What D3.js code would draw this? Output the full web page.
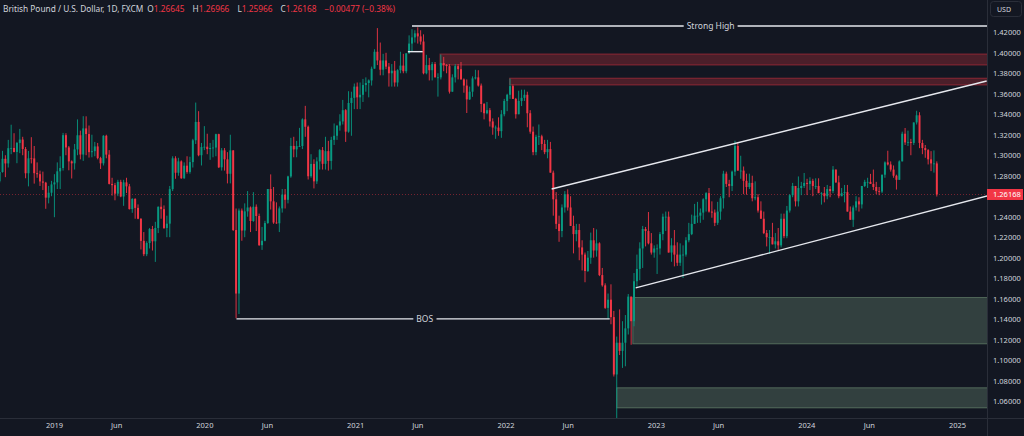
<!DOCTYPE html>
<html><head><meta charset="utf-8">
<script src="https://cdn.jsdelivr.net/npm/d3@7"></script>
<style>
html,body{margin:0;padding:0;background:#131722;overflow:hidden;}
svg{display:block;}
</style></head><body>
<svg id="c" width="1024" height="436"></svg>
<script>
// ---------- DATA (weekly candles: [high, low, close]; open = previous close) ----------
const firstOpen = 1.2745;
const w2018 = [
 [1.2930,1.2730,1.2836],[1.3043,1.2830,1.2965],
 [1.3000,1.2786,1.2920],[1.3150,1.2880,1.3069],[1.3298,1.3010,1.3071],[1.3215,1.3028,1.3032],
 [1.3130,1.2922,1.3120],[1.3257,1.3020,1.3153],[1.3180,1.3000,1.3061],[1.3080,1.2775,1.2824],
 [1.3042,1.2696,1.2970],[1.3176,1.2920,1.2969],[1.3090,1.2723,1.2825],[1.2930,1.2780,1.2815],[1.2850,1.2700,1.2744],
 [1.2840,1.2660,1.2732],[1.2740,1.2477,1.2586],[1.2700,1.2530,1.2634],[1.2750,1.2600,1.2715]
];
const w2019 = [
 [1.2815,1.2395,1.2735],[1.2930,1.2670,1.2843],[1.2990,1.2670,1.2875],[1.3218,1.2850,1.3196],
 [1.3215,1.3000,1.3076],[1.3090,1.2853,1.2940],[1.2950,1.2773,1.2921],[1.3110,1.2860,1.3057],
 [1.3350,1.3000,1.3195],[1.3240,1.2960,1.3007],[1.3381,1.2945,1.3262],[1.3380,1.3000,1.3207],[1.3290,1.2977,1.3030],
 [1.3200,1.2980,1.3040],[1.3130,1.2990,1.3086],[1.3120,1.2960,1.2972],[1.2985,1.2866,1.2921],
 [1.3196,1.2900,1.3190],[1.3200,1.2970,1.3006],[1.3050,1.2715,1.2720],[1.2780,1.2606,1.2708],[1.2730,1.2560,1.2625],
 [1.2760,1.2600,1.2740],[1.2760,1.2590,1.2597],[1.2760,1.2506,1.2735],[1.2780,1.2630,1.2696],
 [1.2720,1.2470,1.2474],[1.2580,1.2438,1.2574],[1.2580,1.2380,1.2486],[1.2520,1.2375,1.2380],
 [1.2385,1.2080,1.2164],[1.2250,1.2015,1.2034],[1.2160,1.2015,1.2143],[1.2290,1.2090,1.2280],[1.2310,1.2070,1.2160],
 [1.2350,1.1959,1.2290],[1.2500,1.2240,1.2497],[1.2580,1.2380,1.2474],[1.2510,1.2280,1.2290],
 [1.2410,1.2200,1.2332],[1.2700,1.2200,1.2669],[1.2990,1.2650,1.2970],[1.2990,1.2770,1.2829],
 [1.2975,1.2800,1.2940],[1.2950,1.2770,1.2775],[1.2930,1.2770,1.2898],[1.2990,1.2820,1.2837],[1.2985,1.2820,1.2933],
 [1.3160,1.2880,1.3146],[1.3514,1.3110,1.3325],[1.3430,1.2990,1.3000],[1.3120,1.2900,1.3080]
];
const w2020 = [
 [1.3284,1.3050,1.3083],[1.3210,1.3010,1.3060],[1.3120,1.2955,1.3071],[1.3150,1.2980,1.3075],[1.3210,1.2990,1.3206],
 [1.3210,1.2875,1.2882],[1.3070,1.2850,1.3048],[1.3070,1.2850,1.2960],[1.3030,1.2725,1.2819],
 [1.3200,1.2725,1.3047],[1.3050,1.2260,1.2270],[1.2480,1.1409,1.1650],[1.2480,1.1450,1.2460],
 [1.2480,1.2165,1.2265],[1.2530,1.2200,1.2452],[1.2650,1.2400,1.2490],[1.2500,1.2250,1.2358],
 [1.2640,1.2350,1.2497],[1.2520,1.2260,1.2407],[1.2430,1.2115,1.2122],[1.2300,1.2076,1.2165],[1.2360,1.2160,1.2338],
 [1.2670,1.2330,1.2670],[1.2813,1.2470,1.2550],[1.2690,1.2330,1.2343],[1.2540,1.2330,1.2336],
 [1.2500,1.2250,1.2481],[1.2670,1.2440,1.2616],[1.2670,1.2480,1.2565],[1.2800,1.2530,1.2793],[1.3170,1.2780,1.3091],
 [1.3180,1.2980,1.3057],[1.3140,1.2980,1.3089],[1.3267,1.3080,1.3090],[1.3360,1.3060,1.3350],
 [1.3482,1.3180,1.3278],[1.3290,1.2763,1.2795],[1.3010,1.2780,1.2915],[1.2960,1.2676,1.2745],
 [1.2980,1.2720,1.2940],[1.3060,1.2860,1.3050],[1.3080,1.2860,1.2916],[1.3180,1.2860,1.3040],[1.3140,1.2850,1.2945],
 [1.3180,1.2860,1.3150],[1.3310,1.3100,1.3190],[1.3290,1.3150,1.3290],[1.3400,1.3240,1.3330],
 [1.3540,1.3300,1.3440],[1.3450,1.3130,1.3230],[1.3625,1.3220,1.3510],[1.3620,1.3190,1.3560]
];
const w2021 = [
 [1.3700,1.3450,1.3670],[1.3710,1.3450,1.3565],[1.3710,1.3450,1.3590],[1.3745,1.3520,1.3685],[1.3760,1.3620,1.3705],
 [1.3740,1.3565,1.3730],[1.3865,1.3680,1.3845],[1.4035,1.3850,1.4010],[1.4241,1.3880,1.3925],
 [1.4100,1.3780,1.3835],[1.3990,1.3780,1.3925],[1.4000,1.3840,1.3865],[1.3900,1.3670,1.3800],
 [1.3890,1.3670,1.3825],[1.3920,1.3670,1.3710],[1.3840,1.3670,1.3830],[1.4010,1.3800,1.3875],[1.3990,1.3800,1.3820],
 [1.3995,1.3800,1.3995],[1.4170,1.3990,1.4090],[1.4230,1.4010,1.4150],[1.4220,1.4100,1.4190],
 [1.4249,1.4090,1.4160],[1.4220,1.4080,1.4110],[1.4180,1.3790,1.3800],[1.3980,1.3790,1.3880],
 [1.3950,1.3730,1.3830],[1.3910,1.3730,1.3890],[1.3910,1.3760,1.3760],[1.3800,1.3572,1.3760],[1.3983,1.3740,1.3900],
 [1.3960,1.3820,1.3880],[1.3890,1.3800,1.3870],[1.3890,1.3602,1.3620],[1.3790,1.3620,1.3760],
 [1.3890,1.3710,1.3870],[1.3890,1.3740,1.3840],[1.3910,1.3740,1.3740],[1.3750,1.3610,1.3680],
 [1.3740,1.3412,1.3545],[1.3670,1.3540,1.3620],[1.3770,1.3570,1.3750],[1.3834,1.3740,1.3760],[1.3830,1.3670,1.3680],
 [1.3700,1.3420,1.3500],[1.3510,1.3350,1.3410],[1.3520,1.3400,1.3440],[1.3460,1.3280,1.3330],
 [1.3360,1.3200,1.3270],[1.3290,1.3160,1.3270],[1.3370,1.3190,1.3235],[1.3440,1.3170,1.3400],[1.3550,1.3380,1.3530]
];
const w2022 = [
 [1.3600,1.3430,1.3590],[1.3748,1.3550,1.3675],[1.3690,1.3550,1.3550],[1.3560,1.3358,1.3400],
 [1.3630,1.3400,1.3530],[1.3640,1.3480,1.3560],[1.3640,1.3530,1.3590],[1.3620,1.3273,1.3410],
 [1.3440,1.3210,1.3230],[1.3280,1.3000,1.3030],[1.3200,1.3000,1.3180],[1.3300,1.3100,1.3185],
 [1.3200,1.3050,1.3110],[1.3150,1.3010,1.3030],[1.3150,1.2970,1.3060],[1.3130,1.2830,1.2830],[1.2850,1.2410,1.2570],
 [1.2640,1.2280,1.2330],[1.2410,1.2155,1.2260],[1.2520,1.2200,1.2490],[1.2650,1.2440,1.2620],
 [1.2667,1.2460,1.2490],[1.2600,1.2310,1.2310],[1.2410,1.2042,1.2230],[1.2330,1.2160,1.2270],
 [1.2330,1.1975,1.2100],[1.2170,1.1875,1.2030],[1.2050,1.1760,1.1870],[1.2065,1.1860,1.2000],[1.2245,1.1940,1.2170],
 [1.2290,1.2000,1.2070],[1.2276,1.2010,1.2140],[1.2150,1.1820,1.1830],[1.1900,1.1717,1.1730],
 [1.1750,1.1500,1.1510],[1.1650,1.1405,1.1590],[1.1740,1.1350,1.1420],[1.1480,1.0840,1.0860],[1.1230,1.0354,1.1170],
 [1.1495,1.1050,1.1090],[1.1380,1.0924,1.1170],[1.1440,1.0940,1.1310],[1.1645,1.1250,1.1620],
 [1.1600,1.1150,1.1380],[1.1850,1.1330,1.1770],[1.2030,1.1710,1.1890],[1.2150,1.1780,1.2090],
 [1.2310,1.1900,1.2280],[1.2300,1.2110,1.2260],[1.2446,1.2130,1.2140],[1.2240,1.2030,1.2050],[1.2120,1.2000,1.2090]
];
const w2023 = [
 [1.2130,1.1841,1.2090],[1.2250,1.2030,1.2230],[1.2430,1.2170,1.2400],[1.2450,1.2260,1.2400],
 [1.2450,1.2050,1.2050],[1.2190,1.1960,1.2120],[1.2270,1.1915,1.2030],[1.2150,1.1920,1.1950],
 [1.2140,1.1920,1.2030],[1.2120,1.1802,1.2030],[1.2200,1.2010,1.2170],[1.2340,1.2150,1.2230],[1.2420,1.2220,1.2330],
 [1.2525,1.2330,1.2410],[1.2545,1.2340,1.2410],[1.2480,1.2340,1.2440],[1.2580,1.2370,1.2570],
 [1.2640,1.2450,1.2630],[1.2680,1.2440,1.2450],[1.2550,1.2390,1.2440],[1.2470,1.2308,1.2340],
 [1.2545,1.2320,1.2450],[1.2600,1.2370,1.2580],[1.2848,1.2480,1.2820],[1.2840,1.2690,1.2720],[1.2760,1.2590,1.2700],
 [1.2850,1.2650,1.2840],[1.3142,1.2800,1.3090],[1.3120,1.2850,1.2850],[1.2995,1.2770,1.2850],
 [1.2890,1.2620,1.2750],[1.2820,1.2615,1.2690],[1.2820,1.2670,1.2730],[1.2800,1.2550,1.2580],
 [1.2745,1.2560,1.2590],[1.2620,1.2440,1.2460],[1.2550,1.2380,1.2380],[1.2450,1.2230,1.2240],[1.2270,1.2110,1.2200],
 [1.2270,1.2037,1.2200],[1.2340,1.2130,1.2130],[1.2240,1.2090,1.2160],[1.2290,1.2070,1.2120],
 [1.2430,1.2100,1.2380],[1.2430,1.2190,1.2210],[1.2505,1.2190,1.2460],[1.2620,1.2440,1.2610],
 [1.2730,1.2590,1.2700],[1.2700,1.2500,1.2550],[1.2793,1.2500,1.2680],[1.2740,1.2610,1.2700],[1.2827,1.2680,1.2730]
];
const w2024 = [
 [1.2770,1.2611,1.2720],[1.2785,1.2660,1.2750],[1.2770,1.2600,1.2700],[1.2775,1.2670,1.2700],
 [1.2775,1.2630,1.2630],[1.2640,1.2518,1.2630],[1.2690,1.2540,1.2600],[1.2710,1.2570,1.2670],
 [1.2700,1.2590,1.2650],[1.2894,1.2630,1.2860],[1.2860,1.2730,1.2735],[1.2800,1.2580,1.2600],[1.2680,1.2600,1.2630],
 [1.2710,1.2540,1.2640],[1.2710,1.2450,1.2450],[1.2500,1.2370,1.2370],[1.2510,1.2300,1.2490],
 [1.2600,1.2460,1.2550],[1.2590,1.2450,1.2520],[1.2700,1.2480,1.2700],[1.2760,1.2690,1.2740],[1.2780,1.2680,1.2740],
 [1.2818,1.2720,1.2720],[1.2860,1.2660,1.2690],[1.2740,1.2620,1.2650],[1.2690,1.2610,1.2645],
 [1.2810,1.2630,1.2810],[1.2940,1.2780,1.2930],[1.3044,1.2900,1.2910],[1.2940,1.2840,1.2860],
 [1.2900,1.2780,1.2800],[1.2810,1.2665,1.2760],[1.2950,1.2760,1.2940],[1.3230,1.2940,1.3210],[1.3266,1.3100,1.3125],
 [1.3240,1.3090,1.3130],[1.3160,1.3000,1.3120],[1.3320,1.3100,1.3320],[1.3434,1.3300,1.3390],
 [1.3420,1.3069,1.3120],[1.3150,1.3010,1.3070],[1.3100,1.2975,1.3050],[1.3060,1.2910,1.2960],
 [1.3040,1.2845,1.2920],[1.3047,1.2830,1.2920],[1.2940,1.2597,1.2617]
];
const yearBlocks = [[2018,w2018],[2019,w2019],[2020,w2020],[2021,w2021],[2022,w2022],[2023,w2023],[2024,w2024]];
const firstWeek = '2018-08-24';

const priceTicks = [1.06,1.08,1.10,1.12,1.14,1.16,1.18,1.20,1.22,1.24,1.26,1.28,1.30,1.32,1.34,1.36,1.38,1.40,1.42];
const timeTickDates = ['2019-01-01','2019-06-01','2020-01-01','2020-06-01','2021-01-01','2021-06-01','2022-01-01','2022-06-01','2023-01-01','2023-06-01','2024-01-01','2024-06-01','2025-01-01'];
const timeTickLabels = ['2019','Jun','2020','Jun','2021','Jun','2022','Jun','2023','Jun','2024','Jun','2025'];

const currentPrice = 1.26168;
const titleText = 'British Pound / U.S. Dollar, 1D, FXCM';
const ohlcLabels = ['O','H','L','C'];
const ohlcValues = ['1.26645','1.26966','1.25966','1.26168'];
const changeText = '\u22120.00477 (\u22120.38%)';

const zones = [
 {from:'2021-07-26', top:1.3988, bottom:1.3881, kind:'supply'},
 {from:'2022-01-11', top:1.3752, bottom:1.3686, kind:'supply'},
 {from:'2022-11-06', top:1.1611, bottom:1.1159, kind:'demand'},
 {from:'2022-09-28', top:1.0730, bottom:1.0534, kind:'demand'}
];
const trendLines = [
 {x1:'2022-04-23', p1:1.2670, x2:'2025-03-14', p2:1.3725},
 {x1:'2022-11-13', p1:1.1705, x2:'2025-03-16', p2:1.2603}
];
const levels = [
 {from:'2021-05-19', to:null, price:1.4262, label:'Strong High', labelAt:'2023-05-14'},
 {from:'2020-03-19', to:'2022-09-11', price:1.1403, label:'BOS', labelAt:'2021-06-19'},
 {from:'2021-05-09', to:'2021-06-14', price:1.4011, label:null}
];

// ---------- BUILD ----------
const parse = d3.timeParse('%Y-%m-%d');
const candles = [];
let prevClose = firstOpen;
yearBlocks.forEach(([yr, arr]) => {
  const start = yr === 2018 ? parse(firstWeek) : d3.timeFriday.ceil(new Date(yr,0,1));
  const dates = d3.timeFriday.range(start, new Date(yr+1,0,1));
  arr.forEach((d,i) => {
    const o = prevClose, c = d[2];
    candles.push({date: dates[i], o, h: Math.max(d[0],o,c), l: Math.min(d[1],o,c), c});
    prevClose = c;
  });
});

const W = 1024, H = 436, plotR = 987, plotB = 418;
const BG = '#131722', UP = '#089981', DOWN = '#f23645', TXT = '#d1d4dc', SEP = '#2a2e39';
const FONT = '"Noto Sans", Roboto, sans-serif';

const svg = d3.select('#c');
svg.append('rect').attr('width',W).attr('height',H).attr('fill',BG);

const x = d3.scaleTime().domain([parse('2019-01-01'), parse('2025-01-01')]).range([54, 957]);
const y = d3.scaleLinear().domain([1.06, 1.42]).range([401.1, 32.3]);

svg.append('clipPath').attr('id','plot').append('rect').attr('x',0).attr('y',0).attr('width',plotR).attr('height',plotB);
const plot = svg.append('g').attr('clip-path','url(#plot)');

// zones
plot.selectAll('rect.zone').data(zones).join('rect').attr('class','zone')
  .attr('x', d => x(parse(d.from)))
  .attr('width', d => plotR + 5 - x(parse(d.from)))
  .attr('y', d => y(d.top))
  .attr('height', d => y(d.bottom) - y(d.top))
  .attr('fill', d => d.kind === 'supply' ? 'rgba(242,54,69,0.25)' : 'rgba(165,214,167,0.22)')
  .attr('stroke', d => d.kind === 'supply' ? 'rgba(242,54,69,0.45)' : 'rgba(165,214,167,0.35)')
  .attr('stroke-width', 1);

// current price dotted line
plot.append('line').attr('x1',0).attr('x2',plotR).attr('y1',y(currentPrice)).attr('y2',y(currentPrice))
  .attr('stroke',DOWN).attr('stroke-opacity',0.45).attr('stroke-width',1).attr('stroke-dasharray','1,2');

// candles
const step = x(parse('2019-01-08')) - x(parse('2019-01-01'));
const bw = step * 0.68;
const cx = d => x(d3.timeDay.offset(d.date, -2));
const cg = plot.append('g');
cg.selectAll('line.wick').data(candles).join('line').attr('class','wick')
  .attr('x1', cx).attr('x2', cx)
  .attr('y1', d => y(d.h)).attr('y2', d => y(d.l))
  .attr('stroke', d => d.c >= d.o ? UP : DOWN).attr('stroke-width', 0.9);
cg.selectAll('rect.body').data(candles).join('rect').attr('class','body')
  .attr('x', d => cx(d) - bw/2).attr('width', bw)
  .attr('y', d => y(Math.max(d.o, d.c)))
  .attr('height', d => Math.max(0.8, Math.abs(y(d.o) - y(d.c))))
  .attr('fill', d => d.c >= d.o ? UP : DOWN);

// trend lines
plot.selectAll('line.trend').data(trendLines).join('line').attr('class','trend')
  .attr('x1', d => x(parse(d.x1))).attr('y1', d => y(d.p1))
  .attr('x2', d => x(parse(d.x2))).attr('y2', d => y(d.p2))
  .attr('stroke', '#e6e8ee').attr('stroke-width', 1.4);

// horizontal levels
plot.selectAll('line.level').data(levels).join('line').attr('class','level')
  .attr('x1', d => x(parse(d.from)))
  .attr('x2', d => d.to ? x(parse(d.to)) : plotR)
  .attr('y1', d => y(d.price)).attr('y2', d => y(d.price))
  .attr('stroke', '#e6e8ee').attr('stroke-width', 1.4);

levels.filter(d => d.label).forEach(d => {
  const t = plot.append('text').attr('x', x(parse(d.labelAt))).attr('y', y(d.price))
    .attr('text-anchor','middle').attr('dominant-baseline','central')
    .attr('font-family', FONT).attr('font-size', 8.5).attr('fill', TXT).text(d.label);
  const bb = t.node().getBBox();
  plot.insert('rect', () => t.node()).attr('x', bb.x - 3).attr('width', bb.width + 6)
    .attr('y', y(d.price) - 3).attr('height', 6).attr('fill', BG);
});

// axes separators
svg.append('line').attr('x1',plotR+0.5).attr('x2',plotR+0.5).attr('y1',0).attr('y2',H).attr('stroke',SEP);
svg.append('line').attr('x1',0).attr('x2',W).attr('y1',plotB+0.5).attr('y2',plotB+0.5).attr('stroke',SEP);

// price axis
const yAxis = d3.axisRight(y).tickValues(priceTicks).tickSize(0).tickPadding(6).tickFormat(d3.format('.5f'));
const ya = svg.append('g').attr('transform',`translate(${plotR},0)`).call(yAxis);
ya.select('.domain').remove();
ya.selectAll('text').attr('fill', TXT).attr('font-family', FONT).attr('font-size', 7.5);

// time axis
const xAxis = d3.axisBottom(x).tickValues(timeTickDates.map(parse)).tickSize(0).tickPadding(5)
  .tickFormat((d,i) => timeTickLabels[i]);
const xa = svg.append('g').attr('transform',`translate(0,${plotB})`).call(xAxis);
xa.select('.domain').remove();
xa.selectAll('text').attr('fill', TXT).attr('font-family', FONT).attr('font-size', 7.5);

// current price label
const cy = y(currentPrice);
svg.append('rect').attr('x', plotR).attr('y', cy - 5.5).attr('width', 36).attr('height', 11).attr('fill', DOWN);
svg.append('text').attr('x', plotR + 6).attr('y', cy).attr('dominant-baseline','central')
  .attr('font-family', FONT).attr('font-size', 7.5).attr('fill', '#ffffff').text(currentPrice.toFixed(5));

// USD box
svg.append('rect').attr('x', 990.5).attr('y', 1.5).attr('width', 31).attr('height', 15).attr('rx', 3)
  .attr('fill', 'none').attr('stroke', SEP);
svg.append('text').attr('x', 997).attr('y', 9).attr('dominant-baseline','central')
  .attr('font-family', FONT).attr('font-size', 7).attr('fill', TXT).text('USD');

// header
const ht = svg.append('text').attr('x', 3).attr('y', 8).attr('dominant-baseline','central')
  .attr('font-family', FONT).attr('font-size', 8.3).attr('fill', TXT);
ht.append('tspan').text(titleText);
ohlcLabels.forEach((lab, i) => {
  ht.append('tspan').attr('dx', i === 0 ? 4 : 8).attr('fill', TXT).text(lab);
  ht.append('tspan').attr('fill', DOWN).text(ohlcValues[i]);
});
ht.append('tspan').attr('dx', 8).attr('fill', DOWN).text(changeText);
</script>
</body></html>
